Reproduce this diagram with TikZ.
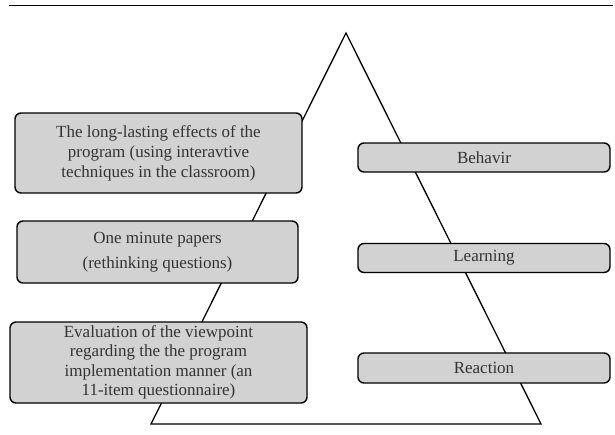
\documentclass[tikz,border=0pt]{standalone}
\usepackage{fontspec}
\setmainfont{Liberation Serif}
\begin{document}
\begin{tikzpicture}[x=1pt,y=-1pt,
  box/.style={draw,line width=1.4pt,rounded corners=6pt,fill=gray!35,text=black!80,align=center,inner sep=0pt,font=\fontsize{17}{20}\selectfont},
  level/.style={box,minimum width=252pt,minimum height=29pt}]
\useasboundingbox (0,0) rectangle (615,434);
\draw[line width=1pt] (9,5) -- (613,5);
% pyramid
\coordinate (top) at (346,33);
\coordinate (bl) at (151,424);
\coordinate (br) at (541,424);
\draw[line width=1.3pt] (top) -- (bl) -- (br) -- cycle;
% methods
\node[box,minimum width=287pt,minimum height=80pt] (effects) at (158.5,153) {The long-lasting effects of the\\program (using interavtive\\techniques in the classroom)};
\node[box,minimum width=281pt,minimum height=62pt] (papers) at (157.5,252) {One minute papers\\[5pt](rethinking questions)};
\node[box,minimum width=297pt,minimum height=81pt,font=\fontsize{17}{19.5}\selectfont] (survey) at (158.5,362.5) {Evaluation of the viewpoint\\regarding the the program\\implementation manner (an\\11-item questionnaire)};
% levels
\node[level] (behavir) at (484,157.5) {Behavir};
\node[level] (learning) at (484,258) {Learning};
\node[level,minimum height=30pt] (reaction) at (484,368) {Reaction};
\end{tikzpicture}
\end{document}
